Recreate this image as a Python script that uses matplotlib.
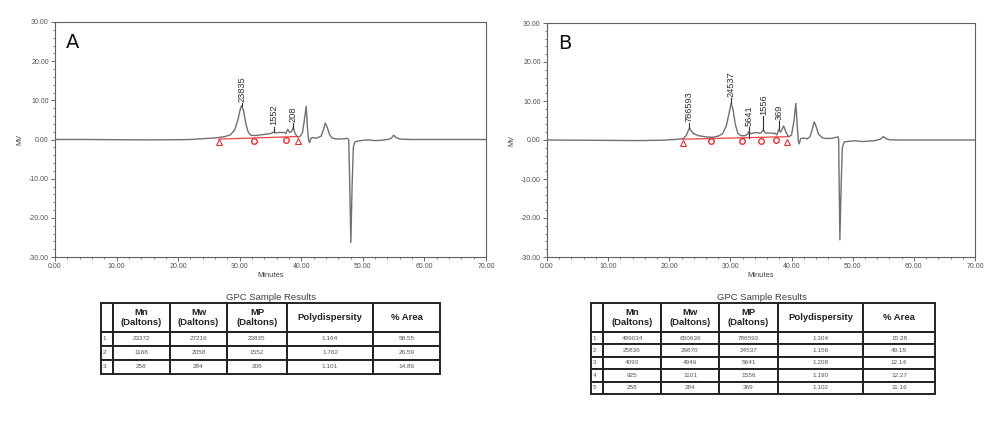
import matplotlib
matplotlib.use("Agg")
import matplotlib.pyplot as plt
from matplotlib.ticker import MultipleLocator, FormatStrFormatter

plt.rcParams['font.family'] = ['Liberation Sans', 'DejaVu Sans']

# ---------------- data: chromatogram A ----------------
tA = [0, 5, 10, 15, 20, 22, 24, 26, 27.5, 28.5, 29.2, 29.7, 30.1, 30.3, 30.6, 31.0, 31.4, 31.8,
      32.5, 33.5, 34.5, 35.2, 35.5, 35.8, 36.5, 37.2, 37.5, 37.8, 38.1, 38.4, 38.7, 39.0, 39.4,
      39.8, 40.2, 40.5, 40.8, 41.0, 41.2, 41.35, 41.6, 42.0, 42.4, 42.8, 43.2, 43.6, 43.9, 44.2,
      44.6, 45.0, 45.5, 46, 47, 47.5, 47.7, 47.85, 48.05, 48.25, 48.45, 48.7, 49.2, 50, 51, 52,
      53, 54, 54.6, 55.0, 55.4, 56, 58, 70]
vA = [0, 0, -0.05, -0.1, -0.05, 0, 0.2, 0.4, 0.7, 1.2, 2.5, 5.0, 7.8, 8.6, 7.5, 4.0, 1.8, 1.1,
      1.0, 1.2, 1.4, 1.6, 1.9, 1.7, 1.8, 1.8, 1.5, 2.6, 1.8, 2.0, 3.0, 1.5, 0.6,
      0.8, 1.8, 5.0, 8.5, 3.0, -0.2, -0.8, 0.4, 0.5, 0.3, 0.6, 0.8, 2.5, 4.2, 3.2,
      1.2, 0.4, 0.2, 0.1, 0.2, 0.3, 0.0, -10, -26.3, -12, -2, -0.6, -0.4, -0.2, -0.1, -0.3,
      -0.2, 0.0, 0.3, 1.1, 0.5, 0.1, 0.0, 0.0]
baseA_t = [26.6, 39.4]
baseA_v = [0.1, 0.75]
triA_t = [26.6, 39.4]
triA_v = [-0.7, -0.5]
cirA_t = [32.3, 37.5]
cirA_v = [-0.3, -0.2]
pkA_t = [30.3, 35.5, 38.7]
pkA_top = [8.6, 1.9, 3.0]
pkA_txt = [9.6, 3.6, 4.5]
pkA_lab = ["23835", "1552", "208"]

# ---------------- data: chromatogram B ----------------
tB = [0, 5, 10, 15, 19, 20.5, 21.5, 22.3, 22.8, 23.1, 23.3, 23.6, 24.0, 24.8, 26, 27, 28, 28.7,
      29.3, 29.8, 30.1, 30.4, 30.8, 31.2, 31.7, 32.4, 32.8, 33.0, 33.3, 34, 35, 35.4, 35.7, 36.5,
      37.3, 37.6, 37.9, 38.2, 38.7, 39.1, 39.5, 40.0, 40.4, 40.7, 40.95, 41.1, 41.25, 41.5, 42,
      42.5, 43, 43.4, 43.7, 44.0, 44.4, 45, 45.5, 46.5, 47.3, 47.6, 47.7, 47.9, 48.1, 48.3, 48.6,
      49.5, 50.5, 51.5, 52.5, 53.5, 54.5, 55.0, 55.4, 56, 58, 70]
vB = [0, -0.05, -0.1, -0.15, -0.05, 0.1, 0.2, 0.4, 1.2, 2.4, 3.0, 2.3, 1.6, 1.1, 0.8, 0.7, 1.0, 1.6,
      3.5, 7.0, 9.4, 8.0, 4.0, 1.8, 1.1, 1.1, 1.5, 2.1, 1.6, 1.9, 1.8, 2.6, 1.8, 1.8,
      1.7, 1.3, 2.7, 2.0, 3.6, 2.0, 0.8, 1.3, 5.0, 9.4, 3.0, -0.2, -1.0, 0.4, 0.5,
      0.3, 0.8, 2.8, 4.7, 3.5, 1.5, 0.6, 0.4, 0.4, 0.7, 0.8, 0.0, -25.6, -12, -2, -0.5,
      -0.3, -0.2, -0.4, -0.3, -0.2, 0.2, 0.85, 0.4, 0.05, 0.0, 0.0]
baseB_t = [22.2, 39.3]
baseB_v = [0.2, 0.85]
triB_t = [22.2, 39.3]
triB_v = [-0.7, -0.4]
cirB_t = [26.9, 31.9, 35.0, 37.4]
cirB_v = [-0.3, -0.2, -0.2, -0.1]
pkB_t = [23.3, 30.1, 33.0, 35.4, 37.9]
pkB_top = [3.0, 9.4, 0.4, 2.6, 2.7]
pkB_txt = [4.7, 11.1, 3.6, 6.4, 5.1]
pkB_lab = ["786593", "24537", "5641", "1556", "369"]

# ---------------- data: tables ----------------
col_labels = ["", "Mn\n(Daltons)", "Mw\n(Daltons)", "MP\n(Daltons)", "Polydispersity", "% Area"]
rowsA = [["1", "23372", "27216", "23835", "1.164", "58.55"],
         ["2", "1168", "2058", "1552", "1.762", "26.59"],
         ["3", "258", "284", "208", "1.101", "14.86"]]
rowsB = [["1", "499034", "650636", "786593", "1.304", "15.28"],
         ["2", "25836", "29870", "24537", "1.156", "49.15"],
         ["3", "4093", "4946", "5641", "1.208", "12.14"],
         ["4", "925", "1101", "1556", "1.190", "12.27"],
         ["5", "258", "284", "369", "1.102", "11.16"]]

W, H = 1005, 422
fig = plt.figure(figsize=(W / 100, H / 100), dpi=100)


def fr(x0, y0, x1, y1):
    return [x0 / W, 1 - y1 / H, (x1 - x0) / W, (y1 - y0) / H]


def chrom(rect, t, v, bt, bv, tt, tv, ct, cv, pt, ptop, ptxt, plab, letter):
    ax = fig.add_axes(rect)
    ax.plot(t, v, color='#707070', lw=1.0, zorder=2)
    ax.plot(bt, bv, color='#f04040', lw=0.9, zorder=3)
    ax.plot(tt, tv, linestyle='none', marker='^', ms=5, mfc='none', mec='#e83030', mew=0.8, zorder=4)
    ax.plot(ct, cv, linestyle='none', marker='o', ms=4, mfc='none', mec='#e83030', mew=1.0, zorder=4)
    for x, y0, y1, s in zip(pt, ptop, ptxt, plab):
        ax.plot([x, x], [y0, y1 - 0.3], color='#303030', lw=0.8, zorder=3)
        ax.text(x, y1, s, rotation=90, ha='center', va='bottom', fontsize=6.7, color='#303030')
    ax.set_xlim(0, 70)
    ax.set_ylim(-30, 30)
    ax.xaxis.set_major_locator(MultipleLocator(10))
    ax.xaxis.set_minor_locator(MultipleLocator(2))
    ax.yaxis.set_major_locator(MultipleLocator(10))
    ax.yaxis.set_minor_locator(MultipleLocator(2))
    ax.xaxis.set_major_formatter(FormatStrFormatter('%.2f'))
    ax.yaxis.set_major_formatter(FormatStrFormatter('%.2f'))
    ax.tick_params(which='major', length=3, width=0.6, labelsize=5, colors='#505050', pad=1.5)
    ax.tick_params(which='minor', length=1.6, width=0.5, colors='#505050')
    for sp in ax.spines.values():
        sp.set_color('#606060')
        sp.set_linewidth(0.8)
    ax.set_xlabel("Minutes", fontsize=5.4, color='#404040', labelpad=1.2)
    ax.set_ylabel("MV", fontsize=5.2, color='#404040', labelpad=4)
    ax.text(0.026, 0.955, letter, transform=ax.transAxes, fontsize=14, va='top', ha='left',
            family=['DejaVu Sans'], color='#111111')
    return ax


chrom(fr(55, 22, 486, 257), tA, vA, baseA_t, baseA_v, triA_t, triA_v, cirA_t, cirA_v,
      pkA_t, pkA_top, pkA_txt, pkA_lab, "A")
chrom(fr(547, 23, 975, 257), tB, vB, baseB_t, baseB_v, triB_t, triB_v, cirB_t, cirB_v,
      pkB_t, pkB_top, pkB_txt, pkB_lab, "B")


def make_table(rect, rows, widths, hdr_h, row_h):
    ax = fig.add_axes(rect)
    ax.axis('off')
    tot = sum(widths)
    tb = ax.table(cellText=rows, colLabels=col_labels, colWidths=[w / tot for w in widths],
                  cellLoc='center', bbox=[0, 0, 1, 1])
    tb.auto_set_font_size(False)
    for (r, c), cell in tb.get_celld().items():
        cell.set_edgecolor('#222222')
        cell.set_linewidth(1.4)
        if r == 0:
            cell.set_height(hdr_h)
            cell.get_text().set_fontsize(6.8)
            cell.get_text().set_fontweight('bold')
            cell.get_text().set_color('#222222')
            cell.get_text().set_linespacing(1.15)
        else:
            cell.set_height(row_h)
            cell.get_text().set_fontsize(4.6)
            cell.get_text().set_color('#555555')
            if c == 0:
                cell.get_text().set_ha('left')
                cell._loc = 'left'
                cell.PAD = 0.15
    return ax


make_table(fr(101, 303, 440, 374), rowsA, [12, 57, 57, 60, 86, 67], 29, 14)
make_table(fr(591, 303, 935, 394), rowsB, [12, 58, 58, 59, 85, 72], 29, 12.4)

fig.text(271 / W, 1 - 297 / H, "GPC Sample Results", ha='center', va='center', fontsize=6.8, color='#404040')
fig.text(762 / W, 1 - 297 / H, "GPC Sample Results", ha='center', va='center', fontsize=6.8, color='#404040')

fig.savefig("out.png", dpi=100, facecolor='white')
